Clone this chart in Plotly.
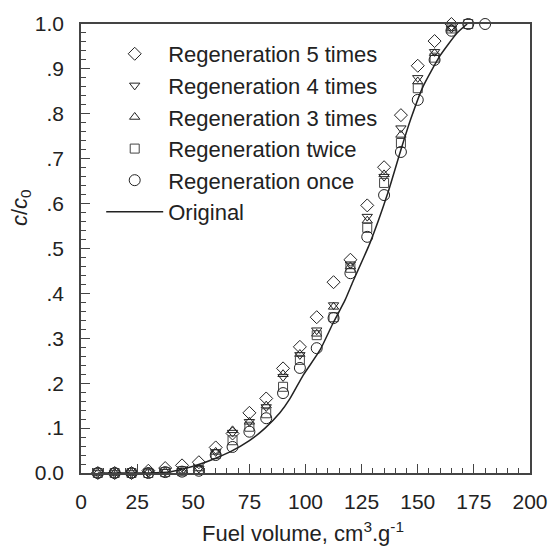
import plotly.graph_objects as go

# ---- data ----
x_common = [7.5, 15, 22.5, 30, 37.5, 45, 52.5, 60, 67.5, 75, 82.5, 90, 97.5, 105,
            112.5, 120, 127.5, 135, 142.5, 150, 157.5, 165]
regen5 = [0, 0, 0, 0.005, 0.011, 0.017, 0.024, 0.057, 0.088, 0.134, 0.166, 0.233, 0.281,
          0.347, 0.425, 0.475, 0.596, 0.681, 0.797, 0.907, 0.962, 1.0]
regen4 = [0, 0, 0, 0.002, 0.003, 0.005, 0.010, 0.047, 0.090, 0.114, 0.147, 0.214, 0.263,
          0.318, 0.374, 0.465, 0.571, 0.660, 0.768, 0.880, 0.938, 0.990]
regen3 = [0, 0, 0, 0.002, 0.003, 0.005, 0.010, 0.047, 0.095, 0.114, 0.150, 0.220, 0.265,
          0.310, 0.370, 0.460, 0.562, 0.665, 0.753, 0.872, 0.935, 0.990]
x_twice = x_common + [172.5]
regen2 = [0, 0, 0, 0, 0.002, 0.004, 0.007, 0.042, 0.073, 0.103, 0.133, 0.192, 0.252,
          0.307, 0.347, 0.457, 0.546, 0.646, 0.735, 0.857, 0.925, 0.990, 1.0]
x_once = x_common + [172.5, 180]
regen1 = [0, 0, 0, 0, 0.002, 0.003, 0.005, 0.040, 0.058, 0.092, 0.122, 0.178, 0.234,
          0.278, 0.345, 0.445, 0.526, 0.619, 0.715, 0.831, 0.920, 0.985, 1.0, 1.0]
x_orig = [7.5, 30, 40, 50, 60, 66.4, 75, 82, 88.6, 93, 99, 106.5, 112.3, 117.6, 121,
          128.7, 136.7, 142.5, 147, 152.3, 160, 167.5, 172]
y_orig = [0, 0, 0.003, 0.015, 0.033, 0.047, 0.072, 0.100, 0.134, 0.165, 0.218, 0.274,
          0.334, 0.385, 0.425, 0.512, 0.624, 0.720, 0.790, 0.860, 0.930, 0.980, 1.0]

x_ticks = [0, 25, 50, 75, 100, 125, 150, 175, 200]
y_ticks = [0, 0.1, 0.2, 0.3, 0.4, 0.5, 0.6, 0.7, 0.8, 0.9, 1.0]
y_ticktext = ["0.0", ".1", ".2", ".3", ".4", ".5", ".6", ".7", ".8", ".9", "1.0"]

FONT = "Liberation Sans, Arial, sans-serif"
INK = "#222222"

fig = go.Figure()

series = [
    ("Regeneration 5 times", x_common, regen5, "diamond-open", 10, INK),
    ("Regeneration 4 times", x_common, regen4, "triangle-down-open", 9, INK),
    ("Regeneration 3 times", x_common, regen3, "triangle-up-open", 9, INK),
    ("Regeneration twice", x_twice, regen2, "square-open", 9, "#444444"),
    ("Regeneration once", x_once, regen1, "circle-open", 11, INK),
]
for i, (name, xs, ys, sym, sz, col) in enumerate(series):
    fig.add_trace(go.Scatter(
        x=xs, y=ys, mode="markers", name=name, legendgroup=f"g{i}",
        marker=dict(symbol=sym, size=sz, color=col, line=dict(width=1, color=col)),
        cliponaxis=False,
    ))

fig.add_trace(go.Scatter(
    x=x_orig, y=y_orig, mode="lines", name="Original", legendgroup="g5",
    line=dict(color=INK, width=1.5, shape="spline", smoothing=0.5),
    cliponaxis=False,
))

fig.update_layout(
    width=551, height=547,
    margin=dict(l=81, r=21, t=24, b=74, autoexpand=False),
    paper_bgcolor="white", plot_bgcolor="white",
    font=dict(family=FONT, size=21, color=INK),
    showlegend=True,
    legend=dict(
        x=0.045, y=0.98, xanchor="left", yanchor="top",
        bgcolor="rgba(0,0,0,0)", borderwidth=0,
        font=dict(family=FONT, size=22, color=INK),
        tracegroupgap=0, itemwidth=57, traceorder="grouped",
    ),
    xaxis=dict(
        range=[0, 200], tickvals=x_ticks, ticks="inside", ticklen=9, tickwidth=1,
        tickcolor="#444", showline=True, linecolor="#444", linewidth=1.5, mirror=True,
        showgrid=False, zeroline=False, ticklabelstandoff=9, automargin=False,
        tickfont=dict(family=FONT, size=21, color=INK),
        minor=dict(dtick=5, ticks="inside", ticklen=5, tickcolor="#444", showgrid=False),
    ),
    yaxis=dict(
        range=[0, 1], tickvals=y_ticks, ticktext=y_ticktext, ticks="inside", ticklen=9,
        tickwidth=1, tickcolor="#444", showline=True, linecolor="#444", linewidth=1.5,
        mirror=True, showgrid=False, zeroline=False, ticklabelstandoff=11, automargin=False,
        tickfont=dict(family=FONT, size=21, color=INK),
        minor=dict(dtick=0.02, ticks="inside", ticklen=5, tickcolor="#444", showgrid=False),
    ),
    annotations=[
        dict(
            text="<i>c</i>/<i>c</i><sub>0</sub>", textangle=-90, showarrow=False,
            xref="paper", yref="paper", x=-0.134, y=0.592, xanchor="center", yanchor="middle",
            font=dict(family=FONT, size=22, color=INK),
        ),
        dict(
            text="Fuel volume, cm<sup>3</sup>.g<sup>-1</sup>", showarrow=False,
            xref="paper", yref="paper", x=0.495, y=-0.132, xanchor="center", yanchor="middle",
            font=dict(family=FONT, size=22, color=INK),
        ),
    ],
)

fig.write_html("out.html")
